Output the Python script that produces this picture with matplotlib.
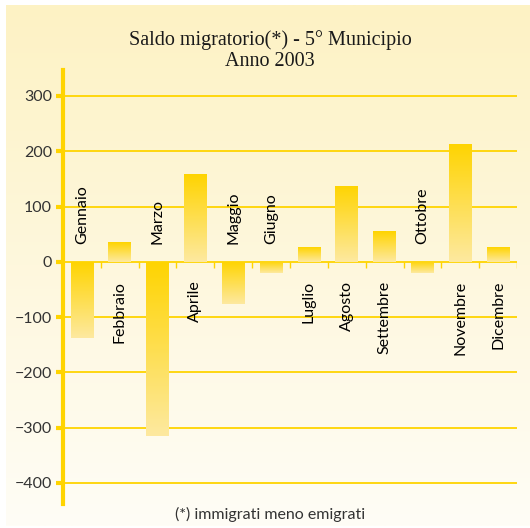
import numpy as np
import matplotlib.pyplot as plt
from matplotlib.colors import LinearSegmentedColormap

# Data
mesi = ['Gennaio', 'Febbraio', 'Marzo', 'Aprile', 'Maggio', 'Giugno',
        'Luglio', 'Agosto', 'Settembre', 'Ottobre', 'Novembre', 'Dicembre']
saldo = [-137, 35, -315, 158, -76, -21, 27, 138, 56, -21, 214, 27]
yticks = [-400, -300, -200, -100, 0, 100, 200, 300]

gold = '#ffd400'
W, H = 530, 528

fig = plt.figure(figsize=(W / 100, H / 100), dpi=100)

# background panel with soft gradient
bg = fig.add_axes([0, 0, 1, 1])
bg.axis('off')
panel = LinearSegmentedColormap.from_list('panel', ['#fdf2c4', '#fffdf6'])
grad = np.linspace(0, 1, 256).reshape(-1, 1)
bg.imshow(grad, cmap=panel, extent=[6, W, H - 2, 5], aspect='auto')
bg.set_xlim(0, W)
bg.set_ylim(H, 0)

# main axes
ax = fig.add_axes([63 / W, (H - 504) / H, (517 - 63) / W, (504 - 70) / H])
ax.patch.set_alpha(0)
x = np.arange(len(mesi))
bars = ax.bar(x, saldo, width=0.6, color='none', zorder=3)

# each bar filled with a vertical gradient: gold at top, pale at bottom
barmap = LinearSegmentedColormap.from_list('bar', ['#fde9a0', gold])
for b in bars:
    x0, y0 = b.get_x(), b.get_y()
    w, h = b.get_width(), b.get_height()
    ylo, yhi = min(y0, y0 + h), max(y0, y0 + h)
    im = ax.imshow(grad, cmap=barmap, origin='lower',
                   extent=[x0, x0 + w, ylo, yhi], aspect='auto', zorder=3)
    im.set_clip_path(b)

ax.set_xlim(-0.5, len(mesi) - 0.5)
ax.set_ylim(-438, 347)

# gridlines
for t in yticks:
    ax.axhline(t, color=gold, lw=1.3, zorder=1)

# small ticks along the zero line
ax.vlines(np.append(x[:-1] + 0.5, len(mesi) - 0.5), -11, 0,
          color=gold, lw=1, zorder=1)

for s in ['top', 'right', 'bottom']:
    ax.spines[s].set_visible(False)
ax.spines['left'].set_color(gold)
ax.spines['left'].set_linewidth(3)
ax.set_xticks([])
ax.set_yticks(yticks)
ax.tick_params(axis='y', length=5, width=3, color=gold, pad=3,
               labelsize=11.5, labelcolor='#333333')
for lab in ax.get_yticklabels():
    lab.set_family('Lato')

# month labels, on the opposite side of the zero line from the bar
for xi, v, m in zip(x, saldo, mesi):
    if v >= 0:
        ax.text(xi, -34, m, rotation=90, ha='center', va='top',
                fontsize=11.5, family='Lato', color='black', zorder=4)
    else:
        ax.text(xi, 33, m, rotation=90, ha='center', va='bottom',
                fontsize=11.5, family='Lato', color='black', zorder=4)

# titles
fig.text(270 / W, 1 - 40 / H, 'Saldo migratorio(*) - 5° Municipio',
         ha='center', va='center', fontsize=14.5, family='Liberation Serif',
         color='#1a1a1a')
fig.text(270 / W, 1 - 62 / H, 'Anno 2003', ha='center', va='center',
         fontsize=14.5, family='Liberation Serif', color='#1a1a1a')
fig.text(270 / W, 1 - 514 / H, '(*) immigrati meno emigrati',
         ha='center', va='center', fontsize=11.5, family='Lato', color='#333333')

fig.savefig('out.png', dpi=100)
